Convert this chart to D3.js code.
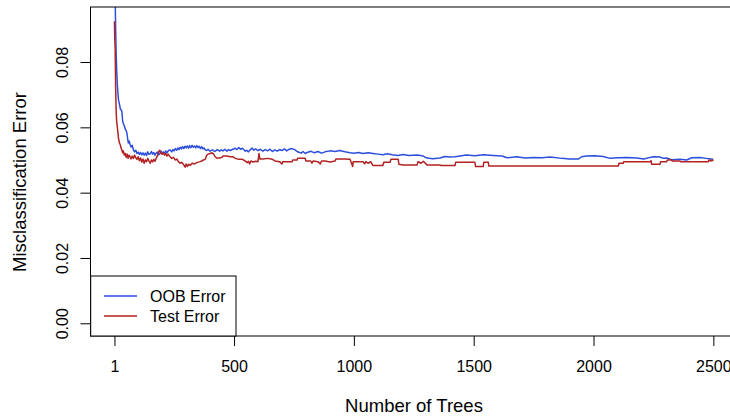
<!DOCTYPE html>
<html>
<head>
<meta charset="utf-8">
<script src="https://cdn.jsdelivr.net/npm/d3@7"></script>
<style>
html,body{margin:0;padding:0;background:#fff;}
svg{display:block;}
text{font-family:"Liberation Sans",Arial,Helvetica,sans-serif;fill:#000;}
</style>
</head>
<body>
<svg id="chart" width="730" height="419"></svg>
<script>
// ---- data ----
const seriesNames = ["OOB Error", "Test Error"];
const seriesColors = ["#2d4fdc", "#b22222"];

const oobTrees = [1,2,3,4,5,6,8,10,13,16,18,22,26,30,32,35,38,42,46,50,53,56,59,62,66,70,75,80,85,90,95,100,105,110,115,120,125,130,135,140,145,150,155,160,165,170,175,180,186,192,196,200,205,210,215,220,226,233,240,245,250,255,261,266,270,275,280,285,290,295,300,305,310,315,320,325,330,335,340,345,350,355,360,365,370,375,380,386,392,400,410,420,430,440,447,454,462,470,477,484,495,505,512,520,527,535,547,553,560,567,575,582,590,600,610,620,630,640,650,660,670,680,690,700,710,720,730,742,755,763,771,780,788,797,808,820,835,850,865,880,900,922,940,963,984,1000,1020,1038,1060,1080,1100,1121,1140,1160,1185,1205,1230,1264,1290,1305,1330,1359,1380,1400,1422,1443,1470,1505,1540,1580,1617,1640,1680,1714,1750,1784,1820,1867,1900,1937,1950,1970,2006,2040,2069,2104,2140,2180,2210,2236,2250,2277,2291,2305,2326,2361,2389,2410,2444,2470,2490,2500];
const oobError = [0.16,0.14,0.12,0.1,0.095,0.09,0.083,0.078,0.073,0.07,0.0684,0.067,0.0655,0.0653,0.0648,0.062,0.0612,0.0605,0.0595,0.059,0.0582,0.0565,0.0552,0.0558,0.0548,0.054,0.0545,0.0531,0.0525,0.053,0.052,0.0524,0.0517,0.0523,0.0516,0.0522,0.0515,0.0521,0.0514,0.0525,0.0517,0.0519,0.0526,0.0518,0.0523,0.0515,0.0521,0.0524,0.0516,0.0522,0.0527,0.0519,0.0525,0.052,0.0528,0.0522,0.0529,0.0531,0.0525,0.0532,0.0528,0.0535,0.053,0.0537,0.0532,0.0539,0.0534,0.0541,0.0535,0.0542,0.0537,0.0543,0.0536,0.0544,0.0538,0.0545,0.0539,0.0543,0.0537,0.0544,0.0538,0.0542,0.0535,0.0541,0.0534,0.0537,0.0531,0.0529,0.0533,0.0527,0.0531,0.0526,0.0532,0.0527,0.0531,0.0528,0.0533,0.0527,0.0532,0.0529,0.0533,0.0536,0.0532,0.0538,0.0533,0.0536,0.0527,0.053,0.0525,0.0531,0.0537,0.053,0.0534,0.0529,0.0533,0.0527,0.0532,0.0528,0.0533,0.0526,0.0531,0.0527,0.0532,0.0529,0.0534,0.0528,0.0533,0.0535,0.0531,0.0526,0.0524,0.0521,0.0526,0.052,0.0524,0.0527,0.0522,0.0526,0.0521,0.0525,0.0528,0.0526,0.0529,0.0525,0.0522,0.0521,0.0523,0.052,0.0522,0.052,0.0518,0.0516,0.0519,0.0516,0.0514,0.0517,0.0514,0.0515,0.0512,0.0506,0.0504,0.0506,0.0511,0.0509,0.051,0.0512,0.0515,0.0513,0.0516,0.0514,0.0512,0.0507,0.051,0.0506,0.0508,0.0507,0.0509,0.0505,0.0503,0.0503,0.051,0.0512,0.0513,0.0511,0.0505,0.0507,0.0508,0.0506,0.0503,0.0508,0.051,0.0509,0.0505,0.0506,0.0501,0.0502,0.05,0.0507,0.0508,0.0505,0.0503,0.0502];

const testTrees = [1,2,3,4,6,8,10,13,16,18,22,26,28,32,35,38,42,46,50,54,58,62,66,70,75,80,85,90,95,100,105,110,115,120,125,130,135,140,145,150,155,160,165,170,175,180,185,190,195,200,205,210,215,220,225,233,240,247,255,261,268,275,282,290,296,300,305,310,318,325,335,345,358,365,372,380,386,392,400,408,415,421,428,440,449,454,470,484,495,505,520,535,547,555,560,565,570,580,590,600,604,608,620,640,660,671,690,700,703,742,745,763,765,797,800,820,825,830,850,860,865,880,900,922,925,963,984,990,995,997,1038,1045,1050,1060,1070,1080,1121,1125,1151,1155,1185,1188,1205,1264,1268,1280,1290,1305,1359,1362,1422,1425,1505,1508,1540,1542,1561,1563,2104,2106,2124,2126,2236,2240,2243,2277,2280,2305,2308,2326,2328,2361,2363,2479,2482,2490,2495,2500];
const testError = [0.0925,0.088,0.086,0.0837,0.072,0.0653,0.062,0.0601,0.058,0.0565,0.0552,0.0545,0.0538,0.053,0.0522,0.0528,0.0515,0.052,0.0508,0.0518,0.0505,0.0515,0.051,0.0503,0.0512,0.0505,0.0515,0.0507,0.0502,0.051,0.0498,0.0506,0.0494,0.0503,0.049,0.05,0.0495,0.0505,0.0497,0.049,0.05,0.0494,0.0502,0.0496,0.0505,0.0512,0.0525,0.053,0.052,0.0518,0.0522,0.0515,0.052,0.0512,0.0518,0.051,0.0505,0.0508,0.05,0.0503,0.0495,0.049,0.0493,0.0485,0.0478,0.0488,0.048,0.0487,0.0484,0.049,0.0488,0.0492,0.0495,0.0497,0.05,0.0502,0.0515,0.0518,0.052,0.0522,0.0518,0.051,0.0506,0.0506,0.0508,0.0512,0.0512,0.051,0.051,0.0505,0.0502,0.0502,0.0497,0.0492,0.0496,0.0488,0.0497,0.0494,0.0496,0.0495,0.052,0.0503,0.0503,0.0505,0.0502,0.0497,0.0495,0.0488,0.0495,0.0495,0.05,0.05,0.0505,0.0505,0.0497,0.0497,0.049,0.0497,0.0495,0.0488,0.0497,0.0497,0.0494,0.0497,0.0503,0.0503,0.0502,0.049,0.048,0.0495,0.0495,0.0488,0.0495,0.049,0.0495,0.0483,0.0483,0.0493,0.0493,0.0502,0.0502,0.0487,0.0485,0.0485,0.0495,0.049,0.0496,0.0485,0.0485,0.0483,0.0483,0.0493,0.0493,0.048,0.048,0.0493,0.0493,0.0482,0.0482,0.049,0.049,0.0495,0.0495,0.0498,0.0487,0.0487,0.0495,0.0495,0.05,0.05,0.0497,0.0497,0.0495,0.0495,0.05,0.0497,0.05,0.0497];

const xTicks = [1, 500, 1000, 1500, 2000, 2500];
const yTicks = [0.00, 0.02, 0.04, 0.06, 0.08];
const xTitle = "Number of Trees";
const yTitle = "Misclassification Error";

// ---- layout ----
const svg = d3.select("#chart");
const plot = {left: 90.5, top: 7, right: 737.3, bottom: 336};
const x = d3.scaleLinear().domain([-98.96, 2599.96]).range([plot.left, plot.right]);
const y = d3.scaleLinear().domain([-0.00389, 0.09685]).range([plot.bottom, plot.top]);
const fs = 16;
const tfs = 18.5;

svg.append("defs").append("clipPath").attr("id", "clip")
  .append("rect").attr("x", plot.left).attr("y", plot.top)
  .attr("width", plot.right - plot.left).attr("height", plot.bottom - plot.top);

const line = d3.line().x(d => x(d[0])).y(d => y(d[1]));
const series = [
  d3.zip(oobTrees, oobError),
  d3.zip(testTrees, testError)
];
const g = svg.append("g").attr("clip-path", "url(#clip)");
series.forEach((s, i) => {
  g.append("path").datum(s).attr("d", line)
    .attr("fill", "none").attr("stroke", seriesColors[i])
    .attr("stroke-width", 1.5).attr("stroke-linejoin", "round");
});

// box
svg.append("rect").attr("x", plot.left).attr("y", plot.top)
  .attr("width", plot.right - plot.left).attr("height", plot.bottom - plot.top)
  .attr("fill", "none").attr("stroke", "#000").attr("stroke-width", 1);

// x axis
const xAxis = d3.axisBottom(x).tickValues(xTicks).tickSize(10).tickPadding(15)
  .tickFormat(d3.format("d"));
const xa = svg.append("g").attr("transform", `translate(0,${plot.bottom})`).call(xAxis);
xa.select(".domain").remove();
xa.selectAll("line").attr("stroke", "#000");
xa.selectAll("text").attr("font-size", fs).attr("font-family", "Liberation Sans, Arial, sans-serif");

// y axis
const yAxis = d3.axisLeft(y).tickValues(yTicks).tickSize(10).tickFormat(d3.format(".2f"));
const ya = svg.append("g").attr("transform", `translate(${plot.left},0)`).call(yAxis);
ya.select(".domain").remove();
ya.selectAll("line").attr("stroke", "#000");
ya.selectAll(".tick text")
  .attr("font-size", fs).attr("font-family", "Liberation Sans, Arial, sans-serif")
  .attr("x", null).attr("dy", null)
  .attr("text-anchor", "middle")
  .attr("transform", "translate(-28,0) rotate(-90)")
  .attr("y", 0).attr("dominant-baseline", "central");

// titles
svg.append("text").attr("x", 414).attr("y", 412)
  .attr("text-anchor", "middle").attr("font-size", tfs).text(xTitle);
svg.append("text").attr("transform", `translate(26,182) rotate(-90)`)
  .attr("text-anchor", "middle").attr("font-size", tfs).text(yTitle);

// legend
const leg = svg.append("g");
leg.append("rect").attr("x", 90.7).attr("y", 276).attr("width", 145.3).attr("height", 60)
  .attr("fill", "#fff").attr("stroke", "#000").attr("stroke-width", 1);
seriesNames.forEach((n, i) => {
  const cy = 296 + i * 20;
  leg.append("line").attr("x1", 104).attr("x2", 137).attr("y1", cy).attr("y2", cy)
    .attr("stroke", seriesColors[i]).attr("stroke-width", 1.6);
  leg.append("text").attr("x", 150).attr("y", cy).attr("dominant-baseline", "central")
    .attr("font-size", fs).text(n);
});
</script>
</body>
</html>
